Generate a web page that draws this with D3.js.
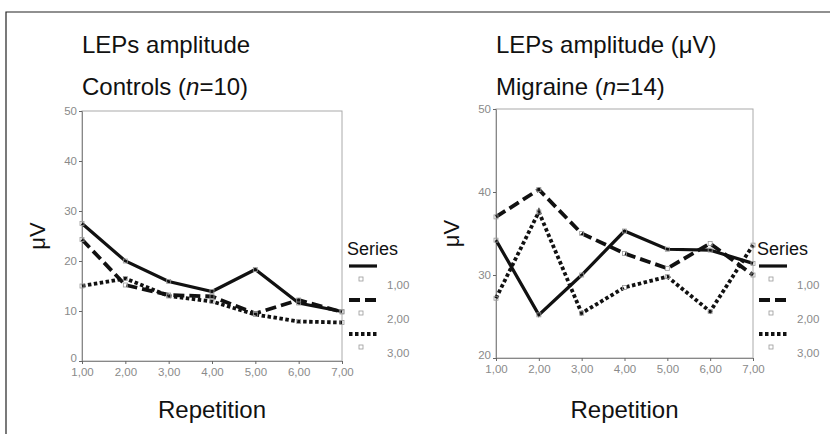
<!DOCTYPE html>
<html>
<head>
<meta charset="utf-8">
<script src="https://cdn.jsdelivr.net/npm/d3@7"></script>
<style>
  body { margin: 0; background: #fff; }
  text { font-family: "Liberation Sans", Arial, sans-serif; }
</style>
</head>
<body>
<svg id="chart" width="830" height="434"></svg>
<script>
// Data
const repetitions = [1, 2, 3, 4, 5, 6, 7];
const seriesNames = ["1,00", "2,00", "3,00"];

const controls1 = [27.5, 20.0, 15.9, 13.9, 18.3, 11.6, 9.9];
const controls2 = [24.3, 15.2, 13.2, 12.9, 9.5, 12.2, 9.8];
const controls3 = [15.0, 16.5, 13.0, 11.9, 9.3, 7.9, 7.7];

const migraine1 = [34.2, 25.2, 30.0, 35.3, 33.1, 33.0, 31.4];
const migraine2 = [37.0, 40.3, 35.0, 32.6, 30.8, 33.8, 30.0];
const migraine3 = [27.2, 37.6, 25.4, 28.5, 29.8, 25.6, 33.6];

const controlsTicks = [0, 10, 20, 30, 40, 50];
const migraineTicks = [20, 30, 40, 50];

// Line styles per series
const dashes = [null, "11,5", "3.5,2.5"];
const widths = [3.2, 3.8, 3.8];

const svg = d3.select("#chart");

// outer frame (left + top edges)
svg.append("path")
  .attr("d", "M6,434V12H830")
  .attr("fill", "none")
  .attr("stroke", "#222")
  .attr("stroke-width", 1.2);

const fmt = d => d.toFixed(2).replace(".", ",");

function panel(cfg) {
  const g = svg.append("g");
  const x = d3.scaleLinear().domain([1, 7]).range([cfg.x0, cfg.x1]);
  const y = d3.scaleLinear().domain(cfg.yDomain).range([cfg.y0, cfg.y1]);

  // titles
  g.append("text").attr("x", cfg.x0).attr("y", 53)
    .style("font-size", "24px").attr("fill", "#111").text(cfg.title);
  const t2 = g.append("text").attr("x", cfg.x0).attr("y", 95)
    .style("font-size", "24px").attr("fill", "#111");
  t2.append("tspan").text(cfg.group + " (");
  t2.append("tspan").style("font-style", "italic").text("n");
  t2.append("tspan").text("=" + cfg.n + ")");

  // plot frame
  g.append("rect")
    .attr("x", cfg.x0).attr("y", cfg.y1)
    .attr("width", cfg.x1 - cfg.x0).attr("height", cfg.y0 - cfg.y1)
    .attr("fill", "none").attr("stroke", "#aaa").attr("stroke-width", 1);

  // axes
  const yAxis = g.append("g")
    .attr("transform", `translate(${cfg.x0},0)`)
    .call(d3.axisLeft(y).tickValues(cfg.ticks).tickSize(3).tickPadding(2).tickFormat(d3.format("d")));
  const xAxis = g.append("g")
    .attr("transform", `translate(0,${cfg.y0})`)
    .call(d3.axisBottom(x).tickValues(repetitions).tickSize(3).tickPadding(4).tickFormat(fmt));
  [yAxis, xAxis].forEach(a => {
    a.select(".domain").attr("stroke", "#888");
    a.selectAll(".tick line").attr("stroke", "#666");
    a.selectAll("text").attr("fill", "#8a8a8a")
      .style("font-size", "11.5px")
      .style("font-family", "'Liberation Sans', Arial, sans-serif");
  });
  // lowest y label sits a little above its tick, clear of the x labels
  yAxis.selectAll(".tick text").filter(d => d === cfg.yDomain[0]).attr("dy", "0.05em");

  // axis titles
  g.append("text")
    .attr("transform", `translate(${cfg.x0 - 37},${(cfg.y0 + cfg.y1) / 2}) rotate(-90)`)
    .attr("text-anchor", "middle")
    .style("font-size", "22px").attr("fill", "#111").text("μV");
  g.append("text")
    .attr("x", (cfg.x0 + cfg.x1) / 2).attr("y", 418)
    .attr("text-anchor", "middle")
    .style("font-size", "24px").attr("fill", "#111").text("Repetition");

  // lines
  const line = d3.line().x((d, i) => x(repetitions[i])).y(d => y(d));
  cfg.series.forEach((vals, k) => {
    g.append("path")
      .datum(vals)
      .attr("d", line)
      .attr("fill", "none")
      .attr("stroke", "#111")
      .attr("stroke-width", widths[k])
      .attr("stroke-dasharray", dashes[k])
      .attr("stroke-linejoin", "miter");
    g.selectAll(null)
      .data(vals)
      .enter().append("rect")
        .attr("x", (d, i) => x(repetitions[i]) - 2)
        .attr("y", d => y(d) - 2)
        .attr("width", 4).attr("height", 4)
        .attr("fill", "none").attr("stroke", "#999").attr("stroke-width", 0.8);
  });

  // legend
  const lx = cfg.legendX;
  g.append("text").attr("x", lx).attr("y", 255)
    .style("font-size", "18px").attr("fill", "#111").text("Series");
  seriesNames.forEach((name, k) => {
    const ly = 266 + k * 34;
    g.append("line")
      .attr("x1", lx + 2).attr("x2", lx + 30)
      .attr("y1", ly).attr("y2", ly)
      .attr("stroke", "#111")
      .attr("stroke-width", widths[k])
      .attr("stroke-dasharray", dashes[k]);
    g.append("rect")
      .attr("x", lx + 12).attr("y", ly + 11)
      .attr("width", 4).attr("height", 4)
      .attr("fill", "none").attr("stroke", "#999").attr("stroke-width", 0.8);
    g.append("text")
      .attr("x", lx + 40).attr("y", ly + 23)
      .style("font-size", "11.5px").attr("fill", "#8a8a8a").text(name);
  });
}

panel({
  title: "LEPs amplitude", group: "Controls", n: 10,
  x0: 82, x1: 342, y0: 361, y1: 111, yDomain: [0, 50],
  ticks: controlsTicks, series: [controls1, controls2, controls3],
  legendX: 347
});

panel({
  title: "LEPs amplitude (μV)", group: "Migraine", n: 14,
  x0: 496, x1: 753, y0: 358, y1: 109, yDomain: [20, 50],
  ticks: migraineTicks, series: [migraine1, migraine2, migraine3],
  legendX: 757
});
</script>
</body>
</html>
